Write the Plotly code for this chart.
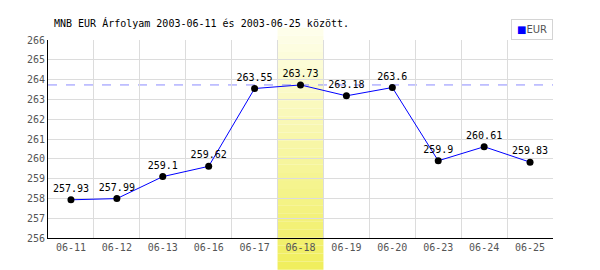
import plotly.graph_objects as go

dates = ["06-11", "06-12", "06-13", "06-16", "06-17", "06-18", "06-19", "06-20", "06-23", "06-24", "06-25"]
eur = [257.93, 257.99, 259.1, 259.62, 263.55, 263.73, 263.18, 263.6, 259.9, 260.61, 259.83]
series_name = "EUR"
title_text = "MNB EUR Árfolyam 2003-06-11 és 2003-06-25 között."
highlight = "06-18"

MONO = "DejaVu Sans Mono"

fig = go.Figure()

# highlight band made of vertical gradient strips
hi = dates.index(highlight)
n_strips = 30
y_top, y_bot = 1.062, -0.16
c_top = (254, 254, 236)
c_bot = (240, 238, 92)
shapes = []
for i in range(n_strips):
    t = (i + 0.5) / n_strips
    col = tuple(int(round(c_top[k] + (c_bot[k] - c_top[k]) * t)) for k in range(3))
    ya = y_top + (y_bot - y_top) * i / n_strips
    yb = y_top + (y_bot - y_top) * (i + 1) / n_strips
    shapes.append(dict(type="rect", xref="x", yref="paper", x0=hi - 0.5, x1=hi + 0.5,
                       y0=yb, y1=ya, fillcolor="rgb(%d,%d,%d)" % col,
                       line=dict(width=0), layer="between"))

# max dashed line
ymax = max(eur)
shapes.append(dict(type="line", xref="paper", yref="y", x0=0, x1=1, y0=ymax, y1=ymax,
                   line=dict(color="#8c8cff", width=1, dash="dash"), layer="between"))

fig.add_trace(go.Scatter(
    x=dates, y=eur, mode="lines+markers+text",
    line=dict(color="#0000ff", width=1),
    marker=dict(color="black", size=7),
    text=[("%g" % v) for v in eur], textposition="top center",
    textfont=dict(family=MONO, size=10, color="black"),
    cliponaxis=False, showlegend=False, name=series_name,
))

fig.update_layout(
    width=600, height=270,
    margin=dict(l=48, r=47, t=40, b=32),
    paper_bgcolor="white", plot_bgcolor="white",
    shapes=shapes,
    showlegend=False,
    annotations=[
        dict(text=title_text, xref="paper", yref="paper", x=4/505, y=(238-23)/198,
             xanchor="left", yanchor="middle", showarrow=False,
             font=dict(family=MONO, size=10, color="black")),
        dict(text="<span style='color:#0000ff'>■</span>" + series_name,
             xref="paper", yref="paper", x=1, y=(238-19)/198, xanchor="right", yanchor="top",
             showarrow=False, bordercolor="#d4d4d4", borderwidth=1, borderpad=0,
             width=40, height=19, align="center", valign="middle",
             bgcolor="white",
             font=dict(family="DejaVu Sans", size=10, color="#555555")),
    ],
    xaxis=dict(
        type="category", range=[-0.5, len(dates) - 0.5], tickson="boundaries",
        showgrid=True, gridcolor="#dcdcdc", gridwidth=1,
        showline=True, linecolor="black", linewidth=1,
        ticks="", ticklen=0,
        tickfont=dict(family=MONO, size=10, color="#555555"),
        zeroline=False, fixedrange=True,
    ),
    yaxis=dict(
        range=[256, 266], dtick=1, tick0=256,
        showgrid=True, gridcolor="#dcdcdc", gridwidth=1,
        showline=True, linecolor="black", linewidth=1,
        ticks="", ticklen=0,
        tickfont=dict(family=MONO, size=10, color="#555555"),
        zeroline=False, fixedrange=True,
    ),
)

fig.write_html("out.html")
